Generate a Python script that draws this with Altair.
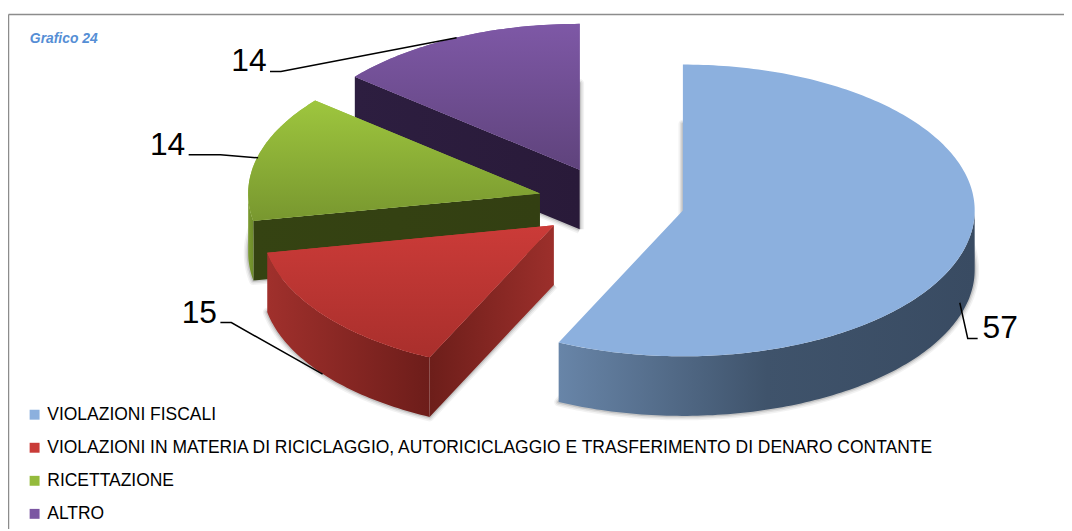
import math
import altair as alt
import pandas as pd

# ---- data ----
labels = [
    "VIOLAZIONI FISCALI",
    "VIOLAZIONI IN MATERIA DI RICICLAGGIO, AUTORICICLAGGIO E TRASFERIMENTO DI DENARO CONTANTE",
    "RICETTAZIONE",
    "ALTRO",
]
values = [57, 15, 14, 14]
value_text = ["57", "15", "14", "14"]
legend_colors = ["#8cb0de", "#c93b38", "#94bb3c", "#7b56a2"]

# ---- layout of the drawing (page pixels) ----
W, H = 1064, 523
RX, RY, DEPTH = 294, 147, 60
centers = [(688, 210), (558, 225), (544, 193), (584, 169)]
label_pos = [(990, 339), (183, 323), (151, 154), (233, 69)]
leaders = [
    [(985, 339), (975, 339), (967, 303)],
    [(222, 323), (233, 323), (325, 375)],
    [(190, 154), (222, 154), (260, 157)],
    [(272, 70), (283, 70), (460, 36)],
]


def grad(stops, horizontal=True):
    n = len(stops)
    return alt.LinearGradient(
        gradient="linear",
        x1=0, y1=0,
        x2=1 if horizontal else 0,
        y2=0 if horizontal else 1,
        stops=[alt.GradientStop(color=c, offset=o) for o, c in stops],
    )


top_grad = [
    None,
    grad([(0, "#cb3b38"), (1, "#a92f2c")], False),
    grad([(0, "#9ec63e"), (1, "#78972f")], False),
    grad([(0, "#7e58a6"), (1, "#5f437c")], False),
]
outer_grad = [
    grad([(0, "#6885a8"), (0.5, "#3f536b"), (1, "#394b62")]),
    grad([(0, "#a0302c"), (1, "#6d1d1a")]),
    grad([(0, "#7a9a30"), (1, "#6e8c2b")]),
    None,
]
inner_grad = [
    None,
    grad([(0, "#6d1e1a"), (1, "#9c2f2b")]),
    grad([(0, "#354312"), (1, "#333f12")]),
    grad([(0, "#2d1e40"), (1, "#291a39")]),
]

xs = alt.Scale(domain=[8, 8 + W], nice=False, zero=False)
ys = alt.Scale(domain=[8 + H, 8], nice=False, zero=False)


def rim(cx, cy, deg, dy=0):
    t = math.radians(deg)
    return (cx + RX * math.sin(t), cy - RY * math.cos(t) + dy)


def frame(points, **extra):
    df = pd.DataFrame(points, columns=["x", "y"])
    df["i"] = range(len(df))
    for k, v in extra.items():
        df[k] = v
    return df


def enc(chart, **kw):
    return chart.encode(
        x=alt.X("x:Q", scale=xs, axis=None),
        y=alt.Y("y:Q", scale=ys, axis=None),
        order=alt.Order("i:Q"),
        **kw,
    )


def arc_points(cx, cy, a, b, dy=0):
    n = max(2, int(abs(b - a)) + 1)
    return [rim(cx, cy, a + (b - a) * k / (n - 1), dy) for k in range(n)]


total = sum(values)
starts, acc = [], 0
for v in values:
    starts.append(acc / total * 360)
    acc += v

layers = []
for idx in [3, 2, 1, 0]:
    cx, cy = centers[idx]
    s = starts[idx]
    e = s + values[idx] / total * 360
    base = [(cx, cy + DEPTH)] + arc_points(cx, cy, s, e, DEPTH) + [(cx, cy + DEPTH)]
    for sw, op in [(9, 0.05), (6, 0.07), (3, 0.12)]:
        layers.append(enc(alt.Chart(frame(base)).mark_line(
            stroke="#000000", strokeWidth=sw, strokeOpacity=op, strokeJoin="round")))
    if inner_grad[idx] is not None:
        r0, r1 = rim(cx, cy, s), rim(cx, cy, s, DEPTH)
        quad = [(cx, cy), r0, r1, (cx, cy + DEPTH), (cx, cy)]
        layers.append(enc(alt.Chart(frame(quad)).mark_line(
            fill=inner_grad[idx], stroke="transparent", strokeWidth=0)))
    a, b = max(s, 90), min(e, 270)
    if outer_grad[idx] is not None and a < b:
        poly = arc_points(cx, cy, a, b) + arc_points(cx, cy, b, a, DEPTH)
        layers.append(enc(alt.Chart(frame(poly)).mark_line(
            fill=outer_grad[idx], stroke="transparent", strokeWidth=0)))
    topf = [(cx, cy)] + arc_points(cx, cy, s, e) + [(cx, cy)]
    layers.append(enc(alt.Chart(frame(topf, name=labels[idx])).mark_line(
        stroke="transparent", strokeWidth=0),
        fill=alt.Fill("name:N",
                      scale=alt.Scale(domain=labels, range=legend_colors),
                      legend=alt.Legend(
                          title=None, orient="none", legendX=18, legendY=399,
                          symbolType="square", symbolSize=100, symbolStrokeWidth=0,
                          labelFont="Liberation Sans", labelFontSize=17.6,
                          labelColor="#000000", labelLimit=1040, labelOffset=4,
                          rowPadding=14.3, padding=0))))
    if top_grad[idx] is not None:
        layers.append(enc(alt.Chart(frame(topf)).mark_line(
            fill=top_grad[idx], stroke="transparent", strokeWidth=0)))

for pts in leaders:
    layers.append(enc(alt.Chart(frame(pts)).mark_line(
        stroke="#000000", strokeWidth=1.5)))

txt = pd.DataFrame({"x": [p[0] for p in label_pos],
                    "y": [p[1] for p in label_pos],
                    "t": value_text})
layers.append(alt.Chart(txt).mark_text(
    font="Liberation Sans", fontSize=32, align="left", baseline="alphabetic",
    color="#000000").encode(
        x=alt.X("x:Q", scale=xs, axis=None),
        y=alt.Y("y:Q", scale=ys, axis=None),
        text="t:N"))

title_df = pd.DataFrame({"x": [30], "y": [41], "t": ["Grafico 24"]})
layers.append(alt.Chart(title_df).mark_text(
    font="Liberation Sans", fontSize=14, fontStyle="italic", fontWeight="bold",
    align="left", baseline="alphabetic", color="#558ed5").encode(
        x=alt.X("x:Q", scale=xs, axis=None),
        y=alt.Y("y:Q", scale=ys, axis=None),
        text="t:N"))

# outer frame: top and left edges
border = pd.DataFrame({"x": [8.5, 8.5], "y": [8 + H, 12.5], "x2": [8.5, 8 + W], "y2": [12.5, 12.5]})
layers.append(alt.Chart(border).mark_rule(color="#8c8c8c", strokeWidth=1.5).encode(
    x=alt.X("x:Q", scale=xs, axis=None), x2="x2:Q",
    y=alt.Y("y:Q", scale=ys, axis=None), y2="y2:Q"))

chart = alt.layer(*layers).properties(
    width=W, height=H, padding=0, autosize="none",
).configure_view(strokeWidth=0)

chart.save("out.html", embed_options={"renderer": "svg", "actions": False})
